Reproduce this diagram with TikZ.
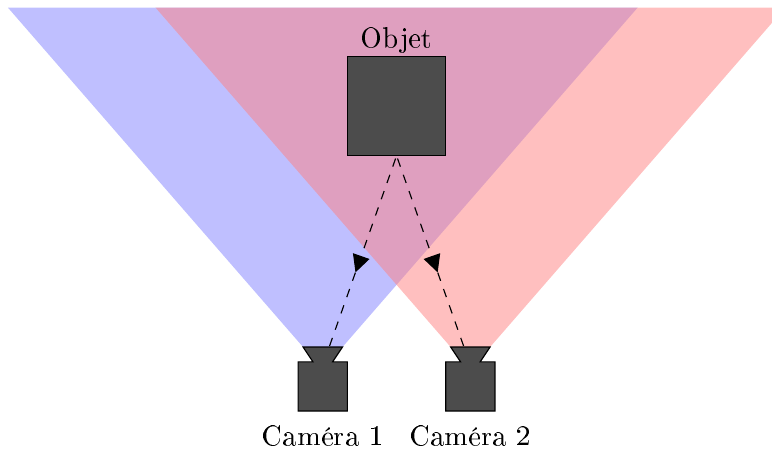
\documentclass[tikz,border=0pt]{standalone}
\usepackage[T1]{fontenc}
\usetikzlibrary{positioning,calc,arrows.meta,decorations.markings}
\tikzset{boite/.style={draw, fill=black!70, inner sep=0pt}}
\tikzset{corps/.style={inner sep=0pt, outer sep=0pt, minimum size=0.6cm}}
\tikzset{cone/.style={fill=#1!50, fill opacity=0.5}}
\tikzset{vue/.style={draw, dashed, shorten <=1pt, postaction={decorate}, decoration={markings, mark=at position 0.61 with {\arrow[solid]{Triangle[length=6pt,width=6pt]}}}}}

\begin{document}
\begin{tikzpicture}[x=0.6cm, y=0.6cm]
	\clip (-8.06,2.154) rectangle (7.63,-6.99);
	\coordinate (lens1) at (-1.5,-4.9);
	\coordinate (lens2) at (1.5,-4.9);
	%
	\fill[cone=blue] ($(lens1)+(-0.4,0)$) -- +(-6,6.9) -- ($(lens1)+(6.4,6.9)$) -- ($(lens1)+(0.4,0)$) -- cycle;
	\fill[cone=red] ($(lens2)+(-0.4,0)$) -- +(-6,6.9) -- ($(lens2)+(6.4,6.9)$) -- ($(lens2)+(0.4,0)$) -- cycle;
	%
	\node[boite, minimum size=1.2cm] (objet) at (0,0) {};
	\node[above=-2.4pt of objet] (nomobjet) {Objet};
	\node[corps] (cam1) at (-1.5,-5.7) {};
	\node[corps] (cam2) at (1.5,-5.7) {};
	\node[below=0.6mm of cam1] (nom1) {Caméra 1};
	\node[below=0.6mm of cam2] (nom2) {Caméra 2};
	%
	\draw[vue] (objet.south) to ($(lens1)+(0.13,0)$);
	\draw[vue] (objet.south) to ($(lens2)+(-0.13,0)$);
	%
	\draw[boite] (cam1.south west) -- (cam1.north west) -- ++(0.3,0) -- ++(-0.2,0.3) -- ++(0.8,0) -- ++(-0.2,-0.3) -- (cam1.north east) -- (cam1.south east) -- cycle;
	\draw[boite] (cam2.south west) -- (cam2.north west) -- ++(0.3,0) -- ++(-0.2,0.3) -- ++(0.8,0) -- ++(-0.2,-0.3) -- (cam2.north east) -- (cam2.south east) -- cycle;
\end{tikzpicture}
\end{document}
